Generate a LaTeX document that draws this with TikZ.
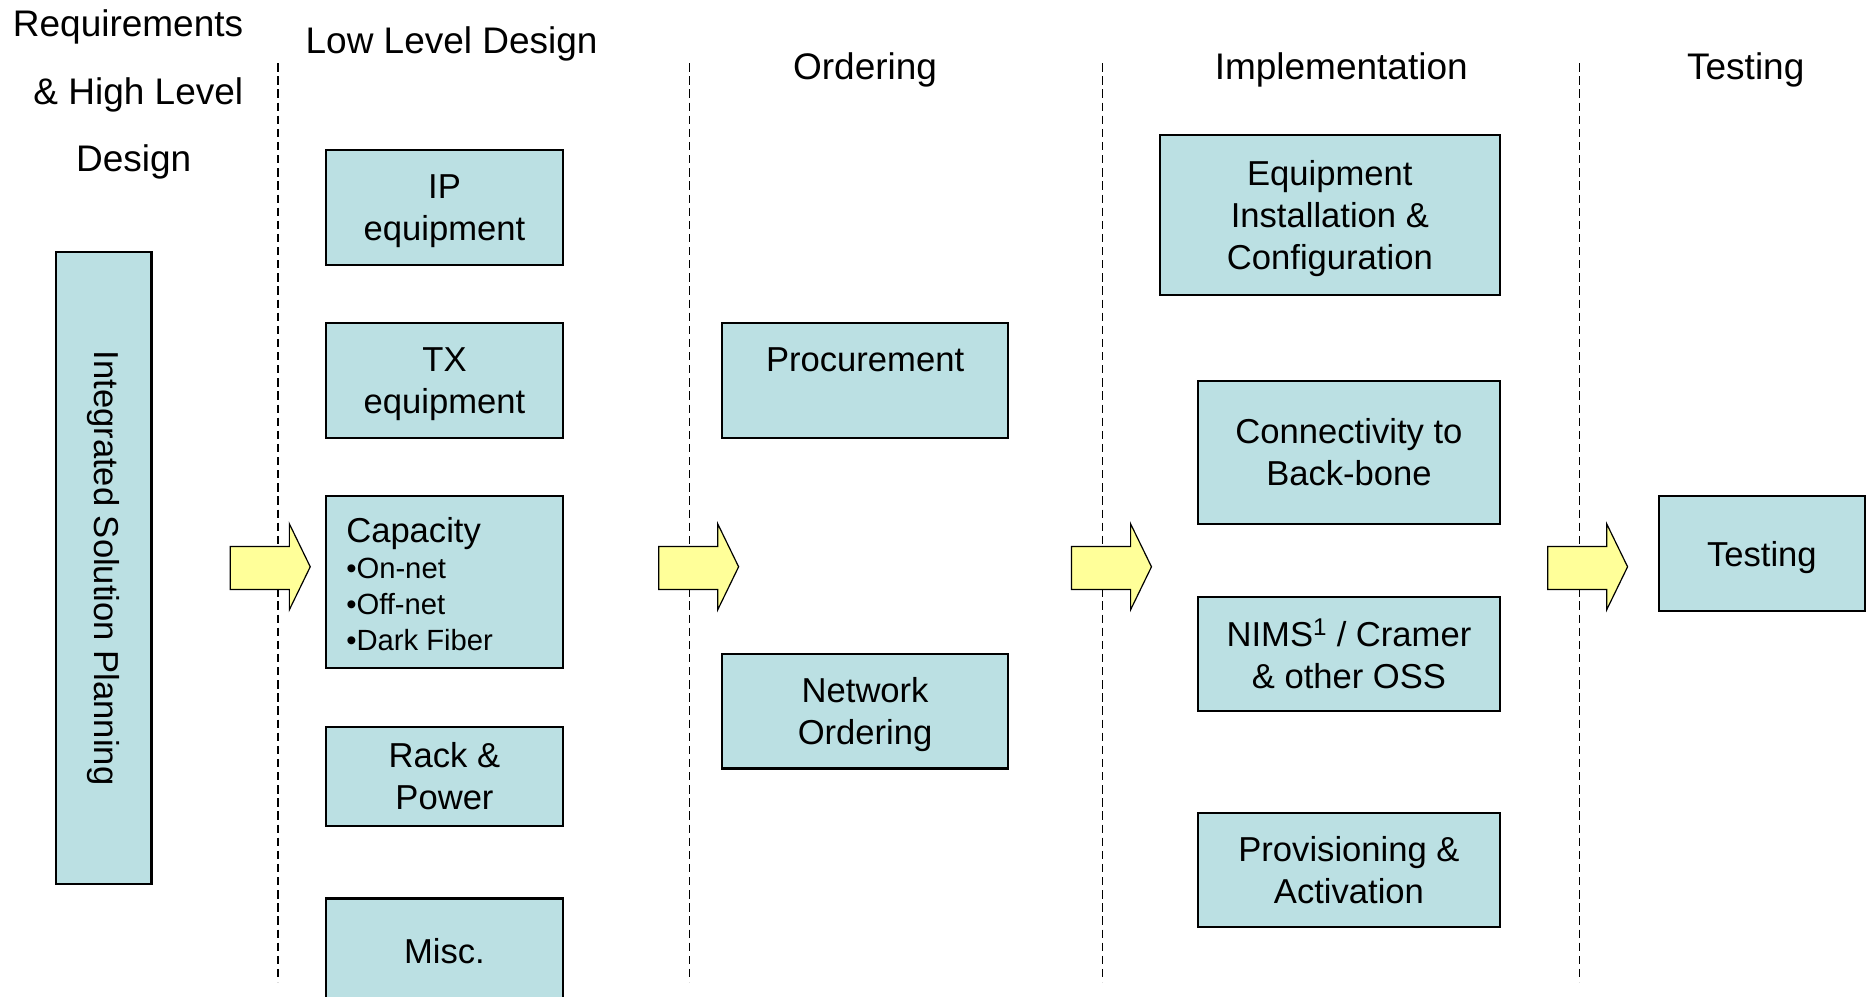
\documentclass[tikz,border=0pt]{standalone}
\usepackage{fontspec}
\setmainfont{Liberation Sans}
\definecolor{boxfill}{RGB}{187,224,227}
\definecolor{arrowfill}{RGB}{255,255,153}
\newcommand\boxfont{\fontsize{29}{35}\selectfont}
\newcommand\headfont{\fontsize{31}{37}\selectfont}
\newcommand\bulletfont{\fontsize{24.5}{30}\selectfont}
\tikzset{
  box/.style={draw=black, line width=1.8pt, fill=boxfill, inner sep=0pt, align=center, font=\boxfont, text depth=0pt},
  headtext/.style={font=\headfont, inner sep=0pt, anchor=base},
  plaintext/.style={font=\boxfont, inner sep=0pt, anchor=base},
  divider/.style={draw=black, line width=1.2pt, dash pattern=on 7pt off 4pt},
  blockarrow/.style={draw=black, line width=1pt, fill=arrowfill, line join=miter},
}
\begin{document}
\begin{tikzpicture}[x=1pt,y=-1pt]
\useasboundingbox (0,0) rectangle (1568,835);
\clip (0,0) rectangle (1568,835);
\fill[white] (0,0) rectangle (1568,835);

% column dividers
\foreach \xx in {233,578,924,1323.5}
  \draw[divider] (\xx,53) -- (\xx,823);

% headers
\node[headtext, anchor=base east] (req1) at (204,31) {Requirements};
\node[headtext, anchor=base east] (req2) at (204,87.5) {\& High Level};
\node[headtext] (req3) at (112,143.5) {Design};
\node[headtext] (lld) at (378.5,45) {Low Level Design};
\node[headtext] (ord) at (725,67) {Ordering};
\node[headtext] (impl) at (1124,67) {Implementation};
\node[headtext] (tst) at (1463,67) {Testing};

% boxes
\node[box, text depth=, rotate=-90, minimum width=530pt, minimum height=80pt] (isp) at (87,476) {Integrated Solution Planning};

\node[box, minimum width=199pt, minimum height=96pt] (ip) at (372.5,174) {IP\\equipment};
\node[box, minimum width=199pt, minimum height=96pt] (tx) at (372.5,319) {TX\\equipment};
\node[box, minimum width=199pt, minimum height=144pt] (cap) at (372.5,488) {};
\node[plaintext, anchor=base west] (capt) at (290,455) {Capacity};
\node[plaintext, font=\bulletfont, anchor=base west] (capa) at (290,485) {•On-net};
\node[plaintext, font=\bulletfont, anchor=base west] (capb) at (290,515) {•Off-net};
\node[plaintext, font=\bulletfont, anchor=base west] (capc) at (290,545) {•Dark Fiber};
\node[box, minimum width=199pt, minimum height=83pt] (rack) at (372.5,650.5) {Rack \&\\Power};
\node[box, minimum width=199pt, minimum height=127pt] (misc) at (372.5,816.5) {};
\node[plaintext] (misct) at (372.5,807.5) {Misc.};

\node[box, minimum width=240pt, minimum height=96pt] (proc) at (725,319) {};
\node[plaintext] (proct) at (725,311.5) {Procurement};
\node[box, minimum width=240pt, minimum height=96pt] (netord) at (725,596) {Network\\Ordering};

\node[box, minimum width=285pt, minimum height=134pt] (equip) at (1114.5,180) {Equipment\\Installation \&\\Configuration};
\node[box, minimum width=253pt, minimum height=120pt] (conn) at (1130.5,379) {Connectivity to\\Back-bone};
\node[box, minimum width=253pt, minimum height=96pt] (nims) at (1130.5,548) {NIMS\textsuperscript{1} / Cramer\\\& other OSS};
\node[box, minimum width=253pt, minimum height=96pt] (prov) at (1130.5,729) {Provisioning \&\\Activation};

\node[box, minimum width=173pt, minimum height=96pt] (test) at (1476.5,464) {Testing};

% block arrows
\foreach \dx in {0,359,705,1104}
  \draw[blockarrow, shift={(\dx,0)}]
    (193,458) -- (242.5,458) -- (242.5,439) -- (260,475) -- (242.5,511)
    -- (242.5,494) -- (193,494) -- cycle;
\end{tikzpicture}
\end{document}
